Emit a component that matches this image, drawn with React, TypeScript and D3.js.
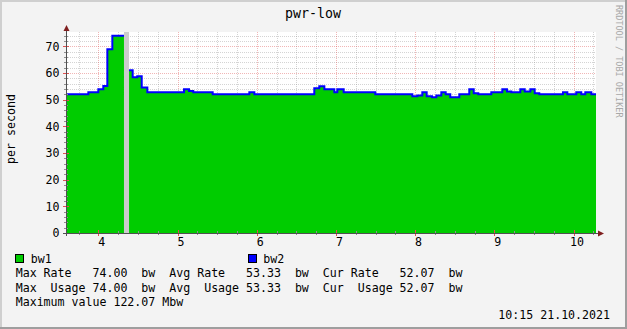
import React from 'react';
import * as d3 from 'd3';

// ---- data ----
const title = 'pwr-low';
const yAxisLabel = 'per second';
const startTime = 3.592;
const endTime = 10.284;
const changeTimes = [
  3.592, 3.874, 4.0, 4.063, 4.114, 4.177, 4.324, 4.388, 4.434, 4.492, 4.548, 4.619,
  5.082, 5.145, 5.199, 5.444, 5.907, 5.97, 6.727, 6.79, 6.854, 6.98, 7.018, 7.098,
  7.497, 7.965, 8.028, 8.091, 8.146, 8.213, 8.268, 8.331, 8.386, 8.444, 8.558, 8.684,
  8.74, 8.798, 8.962, 9.101, 9.16, 9.215, 9.328, 9.384, 9.455, 9.51, 9.568, 9.867,
  9.922, 10.035, 10.098, 10.149, 10.225,
];
const bw1 = [
  52.07, 52.75, 53.9, 55.1, 68.9, 74.0, NaN, 61.0, 58.4, 58.75, 54.6, 52.75,
  53.9, 53.25, 52.75, 52.0, 52.75, 52.0, 54.25, 55.0, 53.9, 52.75, 53.9, 52.75,
  52.0, 51.25, 51.6, 52.75, 51.25, 50.9, 51.6, 52.75, 52.0, 50.9, 52.0, 53.9,
  52.4, 52.0, 52.75, 53.9, 53.1, 52.75, 53.9, 53.1, 53.9, 52.4, 52.0, 52.75,
  52.0, 52.75, 52.0, 52.75, 52.07,
];
const xTicks = [4, 5, 6, 7, 8, 9, 10];
const yTicks = [0, 10, 20, 30, 40, 50, 60, 70];
const legendNames = ['bw1', 'bw2'];
const legendRows = [
  'Max Rate   74.00  bw  Avg Rate   53.33  bw  Cur Rate   52.07  bw',
  'Max  Usage 74.00  bw  Avg  Usage 53.33  bw  Cur  Usage 52.07  bw',
  'Maximum value 122.07 Mbw',
];
const timestamp = '10:15 21.10.2021';
const watermark = 'RRDTOOL / TOBI OETIKER';

// ---- layout ----
const W = 627;
const H = 329;
const L = 66, R = 596, T = 32, B = 233;
const FONT = '"DejaVu Sans Mono", monospace';
const FS = 11.6;

export default function App() {
  const x = d3.scaleLinear().domain([startTime, endTime]).range([L, R]);
  const y = d3.scaleLinear().domain([0, 75.375]).range([B, T]);

  type P = { t: number; v: number };
  const pts: P[] = [];
  changeTimes.forEach((t, i) => {
    const t2 = i + 1 < changeTimes.length ? changeTimes[i + 1] : endTime;
    pts.push({ t, v: bw1[i] });
    pts.push({ t: t2, v: bw1[i] });
  });
  const area = d3
    .area<P>()
    .defined((d) => !isNaN(d.v))
    .x((d) => x(d.t))
    .y0(B)
    .y1((d) => y(d.v));
  const line = d3
    .line<P>()
    .defined((d) => !isNaN(d.v))
    .x((d) => x(d.t))
    .y((d) => y(d.v));

  const unknown: [number, number][] = [];
  changeTimes.forEach((t, i) => {
    if (isNaN(bw1[i])) unknown.push([t, changeTimes[i + 1] ?? endTime]);
  });

  const minorX = d3.range(3.75, 10.26, 0.25).filter((v) => Math.abs(v - Math.round(v)) > 0.01);
  const minorY = d3.range(2, 76, 2).filter((v) => v % 10 !== 0);
  const px = (v: number) => Math.round(x(v)) + 0.5;
  const py = (v: number) => Math.round(y(v)) + 0.5;

  const gridGray = 'rgba(143,143,143,0.38)';
  const gridRed = 'rgba(222,80,80,0.42)';

  return (
    <svg
      width={W}
      height={H}
      style={{ position: 'absolute', left: 0, top: 0 }}
      fontFamily={FONT}
    >
      <rect x={0} y={0} width={W} height={H} fill="#f3f3f3" />
      <line x1={0} y1={1} x2={W} y2={1} stroke="#cfcfcf" strokeWidth={2} />
      <line x1={1} y1={0} x2={1} y2={H} stroke="#cfcfcf" strokeWidth={2} />
      <line x1={0} y1={H - 1} x2={W} y2={H - 1} stroke="#9e9e9e" strokeWidth={2} />
      <line x1={W - 1} y1={0} x2={W - 1} y2={H} stroke="#9e9e9e" strokeWidth={2} />

      <text x={313} y={17.5} textAnchor="middle" fontSize={13.3} fill="#000">
        {title}
      </text>
      <text
        transform={`translate(615.5,5) rotate(90)`}
        fontSize={8.5}
        fill="#a8a8a8"
        style={{ whiteSpace: 'pre' }}
      >
        {watermark}
      </text>

      {/* canvas */}
      <rect x={L} y={T} width={R - L} height={B - T} fill="#ffffff" />

      {/* grid below data */}
      <g shapeRendering="crispEdges">
        {minorX.map((v) => (
          <line key={'mx' + v} x1={px(v)} x2={px(v)} y1={T} y2={B} stroke={gridGray} strokeDasharray="1,1" />
        ))}
        {minorY.map((v) => (
          <line key={'my' + v} x1={L} x2={R} y1={py(v)} y2={py(v)} stroke={gridGray} strokeDasharray="1,1" />
        ))}
        {xTicks.map((v) => (
          <line key={'Mx' + v} x1={px(v)} x2={px(v)} y1={T} y2={B} stroke={gridRed} strokeDasharray="1,1" />
        ))}
        {yTicks.filter((v) => v > 0).map((v) => (
          <line key={'My' + v} x1={L} x2={R} y1={py(v)} y2={py(v)} stroke={gridRed} strokeDasharray="1,1" />
        ))}
      </g>

      {unknown.map(([a, b], i) => (
        <rect key={i} x={x(a)} y={T} width={x(b) - x(a)} height={B - T} fill="#cccccc" />
      ))}
      <path d={area(pts) || ''} fill="#00cc00" />
      <path d={line(pts) || ''} fill="none" stroke="#0000ff" strokeWidth={2} />

      <g shapeRendering="crispEdges">
        {/* ticks */}
        {minorX.map((v) => (
          <line key={'tx' + v} x1={px(v)} x2={px(v)} y1={B - 2} y2={B + 2} stroke="#8f8f8f" />
        ))}
        {xTicks.map((v) => (
          <line key={'tX' + v} x1={px(v)} x2={px(v)} y1={B - 3} y2={B + 3} stroke="#de5050" />
        ))}
        {minorY.map((v) => (
          <line key={'ty' + v} x1={L - 2} x2={L + 2} y1={py(v)} y2={py(v)} stroke="#8f8f8f" />
        ))}
        {yTicks.map((v) => (
          <line key={'tY' + v} x1={L - 3} x2={L + 3} y1={py(v)} y2={py(v)} stroke="#de5050" />
        ))}
        {/* axes */}
        <line x1={L + 0.5} x2={L + 0.5} y1={B + 3} y2={28} stroke="#505050" />
        <line x1={L - 3} x2={601} y1={B + 0.5} y2={B + 0.5} stroke="#505050" />
      </g>
      <path d={`M${L - 2.5},${31} L${L + 0.5},${25} L${L + 3.5},${31} Z`} fill="#7f1f1f" />
      <path d={`M598,${B - 2.5} L604,${B + 0.5} L598,${B + 3.5} Z`} fill="#7f1f1f" />

      {/* axis labels */}
      {yTicks.map((v) => (
        <text key={'yl' + v} x={59.5} y={y(v) + 4.3} textAnchor="end" fontSize={FS} fill="#000">
          {v}
        </text>
      ))}
      {xTicks.map((v) => (
        <text key={'xl' + v} x={x(v) + 3.5} y={246.3} textAnchor="middle" fontSize={FS} fill="#000">
          {v}
        </text>
      ))}
      <text
        transform={`translate(15,129) rotate(-90)`}
        textAnchor="middle"
        fontSize={FS}
        fill="#000"
      >
        {yAxisLabel}
      </text>

      {/* legend */}
      <rect x={15.5} y={254.5} width={8} height={8} fill="#00cc00" stroke="#000" />
      <text x={30.7} y={263.3} fontSize={FS} fill="#000">{legendNames[0]}</text>
      <rect x={248.5} y={254.5} width={8} height={8} fill="#0000ff" stroke="#000" />
      <text x={263.3} y={263.3} fontSize={FS} fill="#000">{legendNames[1]}</text>
      {legendRows.map((s, i) => (
        <text key={'lr' + i} x={15.7} y={277.4 + i * 14.2} fontSize={FS} fill="#000" style={{ whiteSpace: 'pre' }}>
          {s}
        </text>
      ))}
      <text x={610} y={319.3} textAnchor="end" fontSize={FS} fill="#000" style={{ whiteSpace: 'pre' }}>
        {timestamp}
      </text>
    </svg>
  );
}
